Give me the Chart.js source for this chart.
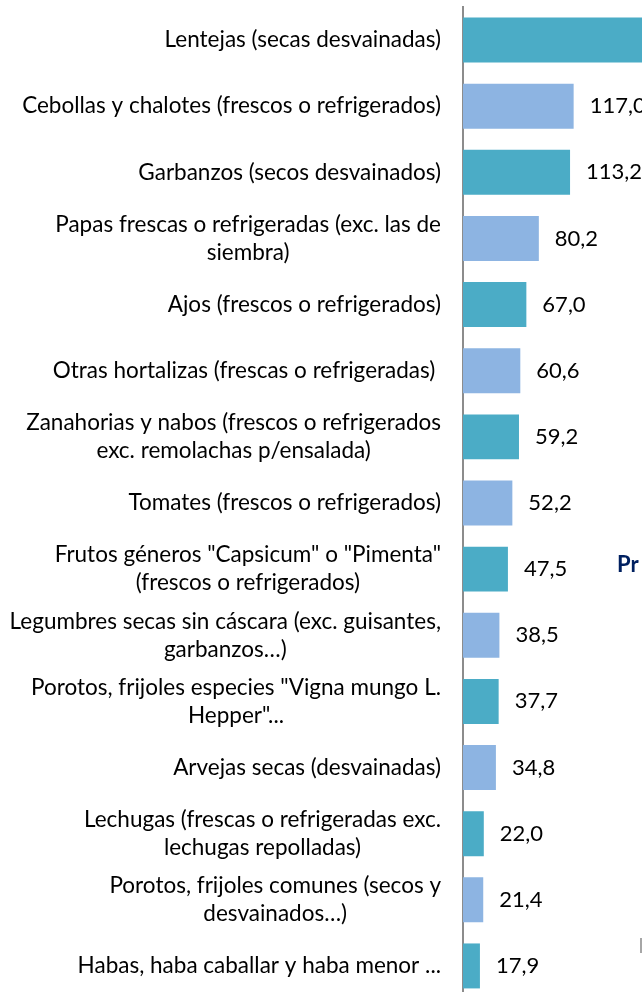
<!DOCTYPE html>
<html lang="es">
<head>
<meta charset="utf-8">
<title>Importaciones de hortalizas y legumbres</title>
<script src="https://cdn.jsdelivr.net/npm/chart.js@4.4.1/dist/chart.umd.min.js"></script>
<style>
    html, body {
        margin: 0;
        padding: 0;
        background: #ffffff;
    }
    #marco {
        position: relative;
        width: 642px;
        height: 992px;
        overflow: hidden;
    }
    #lienzo {
        position: absolute;
        left: 0;
        top: 0;
        width: 900px;
        height: 999px;
    }
    #tituloLateral {
        position: absolute;
        left: 617px;
        top: 550px;
        width: 24px;
        overflow: hidden;
        font-family: Lato, sans-serif;
        font-weight: bold;
        font-size: 22px;
        color: #002060;
        white-space: nowrap;
    }
    #marcaLateral {
        position: absolute;
        left: 640px;
        top: 938px;
        width: 2px;
        height: 15px;
        background: #a6a6a6;
    }
</style>
</head>
<body>
<div id="marco">
    <div id="lienzo"><canvas id="graficoProductos"></canvas></div>
    <div id="tituloLateral">Pr</div>
    <div id="marcaLateral"></div>
</div>

<script>
"use strict";

// categorías (las de dos líneas van como arreglo)
const productos = [
    "Lentejas (secas desvainadas)",
    "Cebollas y chalotes (frescos o refrigerados)",
    "Garbanzos (secos desvainados)",
    ["Papas frescas o refrigeradas (exc. las de", "siembra)"],
    "Ajos (frescos o refrigerados)",
    "Otras hortalizas (frescas o refrigeradas) ",
    ["Zanahorias y nabos (frescos o refrigerados", "exc. remolachas p/ensalada)"],
    "Tomates (frescos o refrigerados)",
    ["Frutos géneros \"Capsicum\" o \"Pimenta\"", "(frescos o refrigerados)"],
    ["Legumbres secas sin cáscara (exc. guisantes,", "garbanzos…)"],
    ["Porotos, frijoles especies \"Vigna mungo L.", "Hepper\"..."],
    "Arvejas secas (desvainadas)",
    ["Lechugas (frescas o refrigeradas exc.", "lechugas repolladas)"],
    ["Porotos, frijoles comunes (secos y", "desvainados…)"],
    "Habas, haba caballar y haba menor ..."
];

const valores = [
    245.0, 117.0, 113.2, 80.2, 67.0, 60.6, 59.2, 52.2,
    47.5, 38.5, 37.7, 34.8, 22.0, 21.4, 17.9
];

const COLOR_A = "#4bacc6";
const COLOR_B = "#8db4e2";
const FUENTE = "Lato, sans-serif";

function formatoValor(v) {
    return v.toFixed(1).replace(".", ",");
}

// etiquetas del eje: bloque alineado a la derecha, líneas centradas entre sí
const etiquetasEje = {
    id: "etiquetasEje",
    afterDraw(chart) {
        const ctx = chart.ctx;
        const eje = chart.scales.y;
        const derecha = chart.chartArea.left - 22;
        const alto = 28;

        ctx.save();
        ctx.font = "22.5px " + FUENTE;
        ctx.fillStyle = "#000000";
        ctx.textAlign = "center";
        ctx.textBaseline = "middle";

        productos.forEach(function (etq, i) {
            const lineas = Array.isArray(etq) ? etq : [etq];
            const ancho = Math.max.apply(null, lineas.map(function (l) {
                return ctx.measureText(l).width;
            }));
            const cx = derecha - ancho / 2;
            const cy = eje.getPixelForTick(i);

            lineas.forEach(function (l, j) {
                ctx.fillText(l, cx, cy + (j - (lineas.length - 1) / 2) * alto);
            });
        });

        ctx.restore();
    }
};

// valor al final de cada barra
const valoresBarras = {
    id: "valoresBarras",
    afterDatasetsDraw(chart) {
        const ctx = chart.ctx;
        const meta = chart.getDatasetMeta(0);

        ctx.save();
        ctx.font = "22px " + FUENTE;
        ctx.fillStyle = "#000000";
        ctx.textAlign = "left";
        ctx.textBaseline = "middle";

        meta.data.forEach(function (barra, i) {
            ctx.fillText(formatoValor(valores[i]), barra.x + 16, barra.y);
        });

        ctx.restore();
    }
};

const graficoProductos = new Chart(document.getElementById("graficoProductos"), {

    type: "bar",

    data: {
        labels: productos,
        datasets: [{
            data: valores,
            backgroundColor: function (c) {
                return c.dataIndex % 2 === 0 ? COLOR_A : COLOR_B;
            },
            borderWidth: 0,
            categoryPercentage: 0.68,
            barPercentage: 1
        }]
    },

    options: {
        indexAxis: "y",
        responsive: true,
        maintainAspectRatio: false,
        animation: false,
        layout: {
            padding: { top: 7, right: 2, bottom: 0, left: 0 }
        },
        plugins: {
            legend: { display: false },
            tooltip: { enabled: false }
        },
        scales: {
            x: {
                display: false,
                min: 0,
                max: 460
            },
            y: {
                grid: { display: false, drawTicks: false },
                border: { display: true, color: "#8c8c8c", width: 2 },
                ticks: { display: false },
                afterFit(scale) {
                    scale.width = 463;
                }
            }
        }
    },

    plugins: [etiquetasEje, valoresBarras]

});
</script>
</body>
</html>
